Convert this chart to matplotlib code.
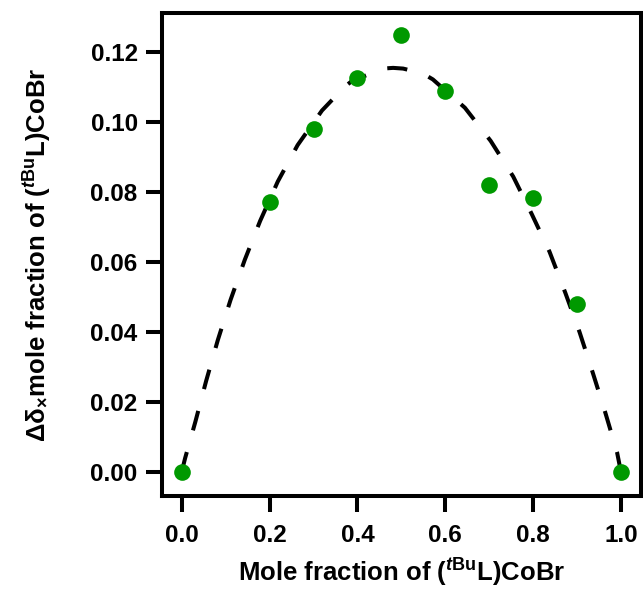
import matplotlib
matplotlib.use("Agg")
import matplotlib.pyplot as plt

# measured data
mole_fraction = [0.0, 0.2, 0.3, 0.4, 0.5, 0.6, 0.7, 0.8, 0.9, 1.0]
delta_x_frac = [0.0, 0.0771, 0.0979, 0.1127, 0.1249, 0.1088, 0.0819, 0.0782, 0.0480, 0.0]

# dashed fit curve
fit_x = [0.0, 0.0075, 0.0308, 0.0554, 0.082, 0.111, 0.1435, 0.1784, 0.2187, 0.2638,
         0.3193, 0.371, 0.387, 0.458, 0.4813, 0.504, 0.549, 0.5718, 0.6447, 0.7035,
         0.7548, 0.7973, 0.8375, 0.8736, 0.9059, 0.9362, 0.9647, 0.9913, 1.0]
fit_y = [0.0, 0.0038, 0.0142, 0.0259, 0.0376, 0.0491, 0.0606, 0.0717, 0.0830, 0.0934,
         0.1033, 0.1101, 0.1117, 0.1153, 0.1155, 0.1153, 0.1139, 0.1122, 0.1041, 0.0946,
         0.0844, 0.0736, 0.0629, 0.0511, 0.0399, 0.0282, 0.0168, 0.0055, 0.0]

xticks = [0.0, 0.2, 0.4, 0.6, 0.8, 1.0]
yticks = [0.00, 0.02, 0.04, 0.06, 0.08, 0.10, 0.12]

plt.rcParams['font.family'] = ['Liberation Sans', 'DejaVu Sans']
plt.rcParams['font.weight'] = 'bold'
plt.rcParams['mathtext.fontset'] = 'custom'
plt.rcParams['mathtext.rm'] = 'Liberation Sans:bold'
plt.rcParams['mathtext.it'] = 'Liberation Sans:bold:italic'
plt.rcParams['mathtext.bf'] = 'Liberation Sans:bold'
plt.rcParams['mathtext.default'] = 'rm'

fig = plt.figure(figsize=(6.43, 5.91), dpi=100)
ax = fig.add_axes([0.252, 0.161, 0.745, 0.817])

ax.plot(fit_x, fit_y, color='black', lw=2.9, dashes=(5.0, 5.6), zorder=2)
ax.plot(mole_fraction, delta_x_frac, 'o', color='#009900', ms=12, mec='none', zorder=3)

ax.set_xlim(-0.045, 1.046)
ax.set_ylim(-0.00695, 0.1312)
ax.set_xticks(xticks)
ax.set_xticklabels([f"{v:.1f}" for v in xticks])
ax.set_yticks(yticks)
ax.set_yticklabels([f"{v:.2f}" for v in yticks])

for s in ax.spines.values():
    s.set_linewidth(2.9)
ax.tick_params(axis='both', direction='out', length=11.5, width=2.9, labelsize=17.5)
ax.tick_params(axis='x', pad=9)
ax.tick_params(axis='y', pad=6)

ax.set_xlabel(r'Mole fraction of ($^{\mathit{t}\mathrm{Bu}}$L)CoBr', fontsize=18.5, fontweight='bold', labelpad=7)
ax.set_ylabel(r'Δδ$_{\times}$mole fraction of ($^{\mathit{t}\mathrm{Bu}}$L)CoBr', fontsize=18.5, fontweight='bold', labelpad=26)

fig.savefig('out.png', dpi=100)
